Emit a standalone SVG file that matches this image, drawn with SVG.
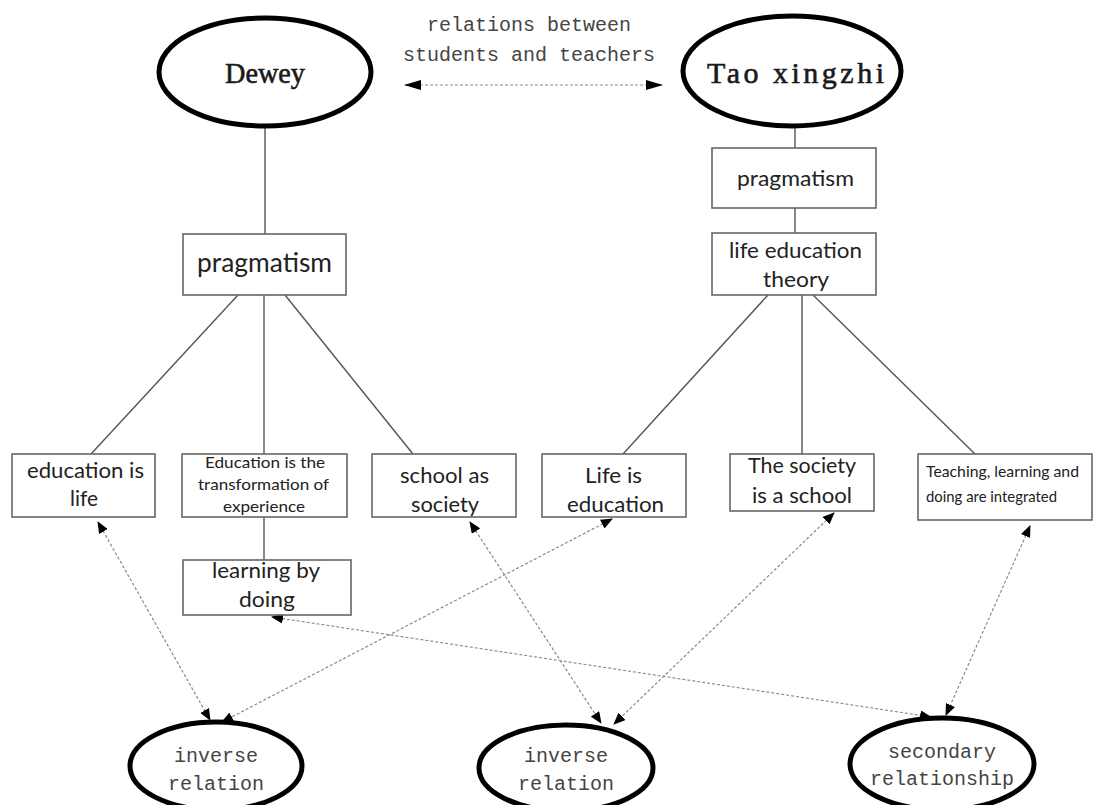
<svg xmlns="http://www.w3.org/2000/svg" width="1105" height="805" viewBox="0 0 1105 805">
<style>
.bg{fill:#ffffff}
.big{fill:#fff;stroke:#000;stroke-width:5}
.box{fill:#fff;stroke:#666;stroke-width:1.6}
.tree{stroke:#555;stroke-width:1.4;fill:none}
.dash{stroke:#8a8a8a;stroke-width:1.2;stroke-dasharray:3 2;fill:none}
.serif{font-family:"Liberation Serif","DejaVu Serif",serif;fill:#1a1a1a;text-anchor:middle;stroke:#1a1a1a;stroke-width:0.6}
.mono{font-family:"Liberation Mono","DejaVu Sans Mono",monospace;font-size:20px;fill:#444;text-anchor:middle}
.sans{font-family:Lato,"Open Sans","Liberation Sans",sans-serif;font-size:22px;fill:#222;text-anchor:middle}
.sm{font-size:15px}
.lg{font-size:26px}
.start{text-anchor:start}
</style>
<defs>
<marker id="ah" markerUnits="userSpaceOnUse" markerWidth="12" markerHeight="10" refX="11" refY="5" orient="auto-start-reverse" viewBox="0 0 12 10">
<path d="M0,0 L12,5 L0,10 Z" fill="#000"/>
</marker>
<marker id="ahb" markerUnits="userSpaceOnUse" markerWidth="17" markerHeight="10" refX="16" refY="5" orient="auto-start-reverse" viewBox="0 0 17 10">
<path d="M0,0 L17,5 L0,10 Z" fill="#000"/>
</marker>
</defs>
<rect class="bg" x="0" y="0" width="1105" height="805"/>

<g id="connectors">
<line class="tree" x1="265" y1="127" x2="265" y2="234"/>
<line class="tree" x1="795" y1="127" x2="795" y2="148"/>
<line class="tree" x1="795" y1="208" x2="795" y2="233"/>
<line class="tree" x1="238" y1="295" x2="91" y2="454"/>
<line class="tree" x1="264" y1="295" x2="264" y2="454"/>
<line class="tree" x1="285" y1="295" x2="413" y2="454"/>
<line class="tree" x1="264" y1="517" x2="264" y2="560"/>
<line class="tree" x1="768" y1="295" x2="623" y2="454"/>
<line class="tree" x1="802" y1="295" x2="802" y2="454"/>
<line class="tree" x1="813" y1="295" x2="975" y2="454"/>
<line class="dash" x1="405" y1="85" x2="662" y2="85" marker-start="url(#ahb)" marker-end="url(#ahb)"/>
<line class="dash" x1="98" y1="522" x2="210" y2="720" marker-start="url(#ah)" marker-end="url(#ah)"/>
<line class="dash" x1="612" y1="519" x2="222" y2="722" marker-start="url(#ah)" marker-end="url(#ah)"/>
<line class="dash" x1="470" y1="522" x2="601" y2="723" marker-start="url(#ah)" marker-end="url(#ah)"/>
<line class="dash" x1="834" y1="513" x2="614" y2="724" marker-start="url(#ah)" marker-end="url(#ah)"/>
<line class="dash" x1="272" y1="617" x2="931" y2="717" marker-start="url(#ah)" marker-end="url(#ah)"/>
<line class="dash" x1="1030" y1="526" x2="946" y2="715" marker-start="url(#ah)" marker-end="url(#ah)"/>
</g>

<g id="label-relations">
<text class="mono" x="529" y="31">relations between</text>
<text class="mono" x="529" y="61">students and teachers</text>
</g>

<g id="dewey">
<ellipse class="big" cx="265" cy="72" rx="106" ry="54"/>
<text class="serif" x="265" y="83" font-size="29" textLength="80" lengthAdjust="spacingAndGlyphs">Dewey</text>
</g>
<g id="tao">
<ellipse class="big" cx="792" cy="71" rx="109" ry="55"/>
<text class="serif" x="795.5" y="83" font-size="30" textLength="177" lengthAdjust="spacing">Tao xingzhi</text>
</g>

<g id="dewey-pragmatism">
<rect class="box" x="183" y="234" width="163" height="61"/>
<text class="sans lg" x="264.5" y="272" textLength="135" lengthAdjust="spacingAndGlyphs">pragmatism</text>
</g>
<g id="tao-pragmatism">
<rect class="box" x="712" y="148" width="164" height="60"/>
<text class="sans" x="795.5" y="186" textLength="117" lengthAdjust="spacingAndGlyphs">pragmatism</text>
</g>
<g id="life-education-theory">
<rect class="box" x="712" y="233" width="164" height="62"/>
<text class="sans" x="795.5" y="258" textLength="133" lengthAdjust="spacingAndGlyphs">life education</text>
<text class="sans" x="796" y="287" textLength="66" lengthAdjust="spacingAndGlyphs">theory</text>
</g>

<g id="education-is-life">
<rect class="box" x="12" y="454" width="143" height="63"/>
<text class="sans" x="85.5" y="478" textLength="117" lengthAdjust="spacingAndGlyphs">education is</text>
<text class="sans" x="84" y="506" textLength="28" lengthAdjust="spacingAndGlyphs">life</text>
</g>
<g id="education-transformation">
<rect class="box" x="182" y="454" width="165" height="63"/>
<text class="sans sm" x="265" y="468" textLength="120" lengthAdjust="spacingAndGlyphs">Education is the</text>
<text class="sans sm" x="263.5" y="490" textLength="131" lengthAdjust="spacingAndGlyphs">transformation of</text>
<text class="sans sm" x="264" y="512" textLength="82" lengthAdjust="spacingAndGlyphs">experience</text>
</g>
<g id="school-as-society">
<rect class="box" x="372" y="454" width="144" height="63"/>
<text class="sans" x="444.5" y="483" textLength="89" lengthAdjust="spacingAndGlyphs">school as</text>
<text class="sans" x="445" y="512" textLength="68" lengthAdjust="spacingAndGlyphs">society</text>
</g>
<g id="learning-by-doing">
<rect class="box" x="183" y="560" width="168" height="55"/>
<text class="sans" x="266" y="578" textLength="108" lengthAdjust="spacingAndGlyphs">learning by</text>
<text class="sans" x="267" y="607" textLength="56" lengthAdjust="spacingAndGlyphs">doing</text>
</g>
<g id="life-is-education">
<rect class="box" x="542" y="454" width="144" height="63"/>
<text class="sans" x="613.5" y="483" textLength="57" lengthAdjust="spacingAndGlyphs">Life is</text>
<text class="sans" x="615.5" y="512" textLength="97" lengthAdjust="spacingAndGlyphs">education</text>
</g>
<g id="society-is-school">
<rect class="box" x="730" y="454" width="144" height="57"/>
<text class="sans" x="802" y="473" textLength="108" lengthAdjust="spacingAndGlyphs">The society</text>
<text class="sans" x="802" y="503" textLength="100" lengthAdjust="spacingAndGlyphs">is a school</text>
</g>
<g id="teaching-learning-doing">
<rect class="box" x="918" y="454" width="174" height="66"/>
<text class="sans sm start" x="926" y="477" textLength="153" lengthAdjust="spacingAndGlyphs">Teaching, learning and</text>
<text class="sans sm start" x="926" y="502" textLength="131" lengthAdjust="spacingAndGlyphs">doing are integrated</text>
</g>

<g id="inverse-relation-1">
<ellipse class="big" cx="216" cy="766" rx="86" ry="44"/>
<text class="mono" x="216" y="762">inverse</text>
<text class="mono" x="216" y="790">relation</text>
</g>
<g id="inverse-relation-2">
<ellipse class="big" cx="566" cy="768" rx="87" ry="43"/>
<text class="mono" x="566" y="762">inverse</text>
<text class="mono" x="566" y="790">relation</text>
</g>
<g id="secondary-relationship">
<ellipse class="big" cx="942" cy="764" rx="92" ry="46"/>
<text class="mono" x="942" y="758">secondary</text>
<text class="mono" x="942" y="785">relationship</text>
</g>
</svg>
